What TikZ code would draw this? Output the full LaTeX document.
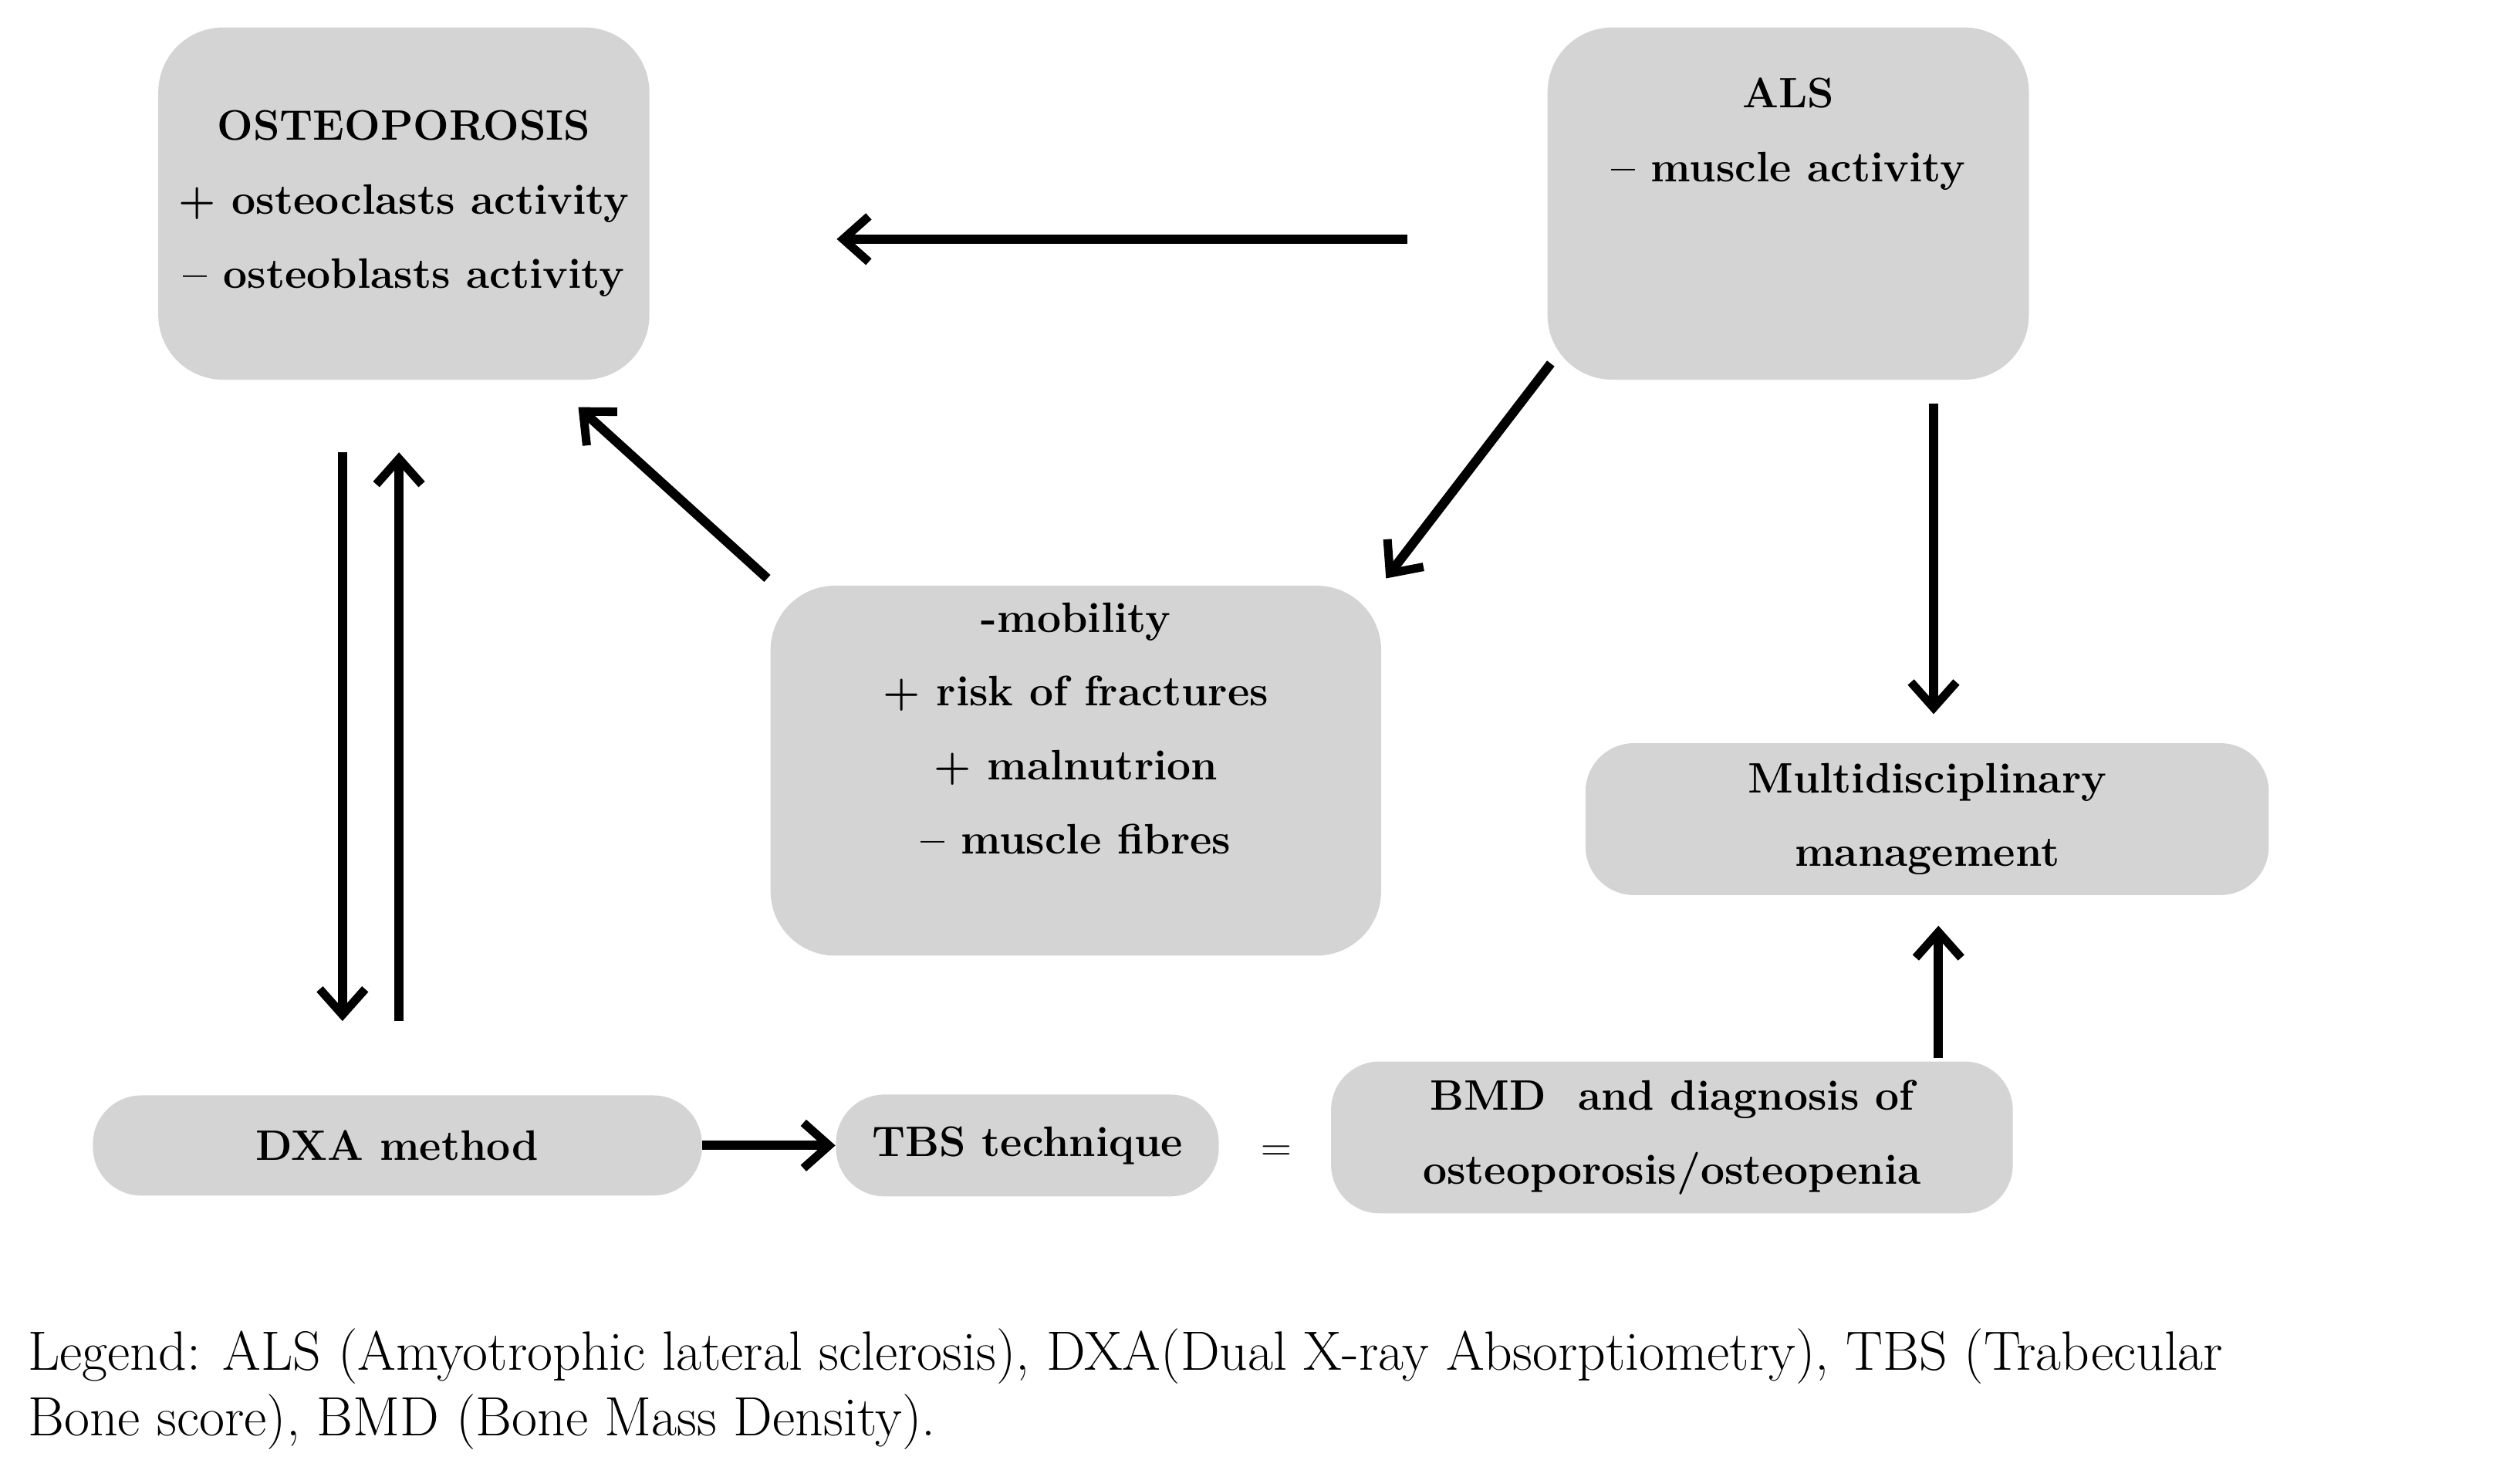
\documentclass[tikz,border=0pt]{standalone}
\usetikzlibrary{arrows.meta}
\begin{document}
\begin{tikzpicture}[x=0.02cm,y=-0.02cm,
  box/.style={fill=black!17,draw=none,inner sep=0pt,align=center,font=\fontsize{15}{26}\selectfont\bfseries},
  arr/.style={line width=3.3pt,-{Straight Barb[length=9pt,width=16pt,line width=3pt]}}]
\useasboundingbox (0,0) rectangle (1560,914);
\node[box,rounded corners=0.8cm,minimum width=304*0.02cm,minimum height=218*0.02cm] (ost) at (250,126) {OSTEOPOROSIS\\+ osteoclasts activity\\\textendash{} osteoblasts activity};
\node[box,rounded corners=0.8cm,minimum width=298*0.02cm,minimum height=218*0.02cm] (als) at (1107,126) {ALS\\\textendash{} muscle activity\\[26pt]};
\node[box,rounded corners=0.8cm,minimum width=378*0.02cm,minimum height=229*0.02cm] (mid) at (666,477) {-mobility\\+ risk of fractures\\+ malnutrion\\\textendash{} muscle fibres\\[4pt]};
\node[box,rounded corners=0.6cm,minimum width=423*0.02cm,minimum height=94*0.02cm] (mul) at (1193,507) {Multidisciplinary\\management};
\node[box,rounded corners=0.6cm,minimum width=377*0.02cm,minimum height=62*0.02cm] (dxa) at (246,709) {DXA method};
\node[box,rounded corners=0.6cm,minimum width=237*0.02cm,minimum height=63*0.02cm] (tbs) at (636,709) {TBS technique};
\node[font=\fontsize{15}{18}\selectfont] (eq) at (790,714) {=};
\node[box,rounded corners=0.6cm,minimum width=422*0.02cm,minimum height=94*0.02cm] (bmd) at (1035,704) {BMD\ \ and diagnosis of\\osteoporosis/osteopenia};
\node[anchor=north west,align=left,inner sep=0pt,font=\fontsize{19.5}{23}\selectfont] (leg) at (17,822) {Legend: ALS (Amyotrophic lateral sclerosis), DXA(Dual X-ray Absorptiometry), TBS (Trabecular\\Bone score), BMD (Bone Mass Density).};
\coordinate (a1) at (871,148); \coordinate (a2) at (518,148);
\coordinate (b1) at (960,225); \coordinate (b2) at (858,358);
\coordinate (c1) at (475,358); \coordinate (c2) at (358,252);
\coordinate (d1) at (212,280); \coordinate (d2) at (212,632);
\coordinate (e1) at (247,632); \coordinate (e2) at (247,280);
\coordinate (f1) at (1197,250); \coordinate (f2) at (1197,442);
\coordinate (g1) at (1200,655); \coordinate (g2) at (1200,573);
\draw[arr] (a1) -- (a2);
\draw[arr] (b1) -- (b2);
\draw[arr] (c1) -- (c2);
\draw[arr] (d1) -- (d2);
\draw[arr] (e1) -- (e2);
\draw[arr] (f1) -- (f2);
\draw[arr] (g1) -- (g2);
\draw[arr] (dxa.east) -- (tbs.west);
\end{tikzpicture}
\end{document}
